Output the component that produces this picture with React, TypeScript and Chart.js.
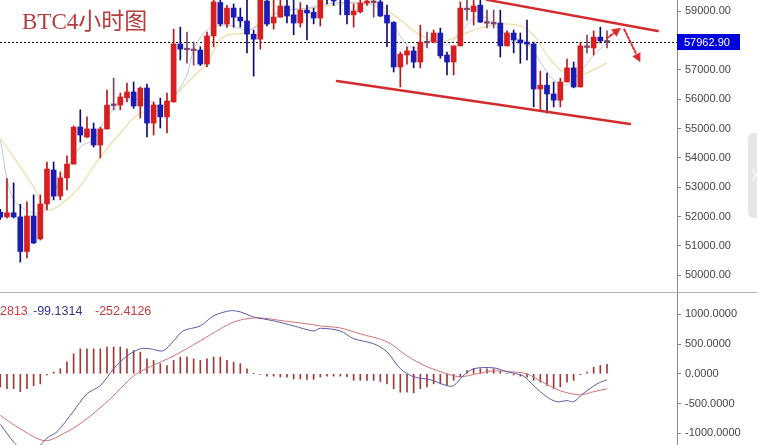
import React, { useEffect, useRef } from "react";
import { Chart, registerables } from "chart.js";
Chart.register(...registerables);

// ---------- data ----------
const openPrices = [52150,51990,52130,51990,50810,52020,51240,52430,53590,52700,53320,53790,55056,54710,54988,54440,54988,55800,55806,56050,56250,55770,56385,55190,55806,55400,55910,57885,57700,57700,57680,57200,58160,59300,58567,59110,58800,58670,58220,58050,59350,58600,58800,59180,58880,58600,59040,58970,58770,59550,59500,59700,59500,58880,58980,59280,59340,59320,58870,58620,57100,57510,57650,57270,57940,57950,58260,57510,57270,57820,59090,58990,59210,58630,58610,58600,57820,58260,58020,57950,57885,56350,56480,56180,55970,56590,57070,56420,57780,57750,58120,57990];
const highPrices = [52250,53300,53150,52420,52500,52740,52740,53860,53860,53520,54070,55090,55640,55400,55190,55050,56310,56720,56210,56550,56590,56420,56520,55910,56040,56210,58390,58460,58290,57950,57790,58290,59600,59600,59200,59250,59110,59500,58360,59600,59500,59450,59500,59400,59400,59300,59210,59110,59500,59700,59700,59900,59600,59250,59400,59450,59450,59500,59210,58650,57610,57790,57790,58530,58290,58360,58430,57610,57820,59320,59400,59400,59500,59040,59040,59040,58330,58360,58260,58700,57950,56960,56890,56590,56720,57370,57270,57920,58190,58330,58460,58330];
const lowPrices = [51900,51950,51950,50450,50590,51080,51200,52230,52570,52570,52910,53790,54540,54700,54370,54000,54980,55640,55640,55910,55690,55360,54720,54780,55020,54850,55900,57340,57230,57160,57150,57100,57790,58500,58450,58460,58460,57580,56790,57710,58500,58390,58800,58600,58200,58460,58020,58570,58500,59250,59200,58880,58570,58460,58940,59200,58800,58820,57790,56930,56420,57200,57070,57070,57750,57920,57400,56830,56830,57820,58700,58530,58620,58430,58430,57440,57820,57580,57230,57340,55740,55640,55530,55740,55740,56590,56390,56420,57580,57510,57920,57750];
const closePrices = [51980,52130,51990,50810,52020,51100,52430,53620,52700,53320,53790,55050,54780,54990,54440,54990,55800,55830,56080,56250,55770,56380,55190,55806,55400,55940,57885,57710,57730,57670,57200,58160,59320,58567,59110,58800,58670,58220,58050,59450,58567,58800,59180,58840,58600,59040,58940,58770,59420,59400,59350,59500,58880,59010,59280,59350,59310,58840,58600,57100,57540,57650,57270,57950,57960,58260,57480,57270,57820,59110,59070,59180,58630,58610,58590,57820,58260,58020,57920,57880,56350,56480,56180,55970,56590,57070,56420,57820,57810,58120,57990,57962.9];

// moving averages: [candle index, price]
const maFast = [[0,54610],[2,52570],[6,52060],[7,52400],[12,54380],[14,54610],[16,55400],[19,55980],[22,55980],[24,55740],[26,56080],[28,56830],[29,57680],[31,58360],[34,58530],[37,58360],[39,58530],[42,58980],[46,59110],[50,59280],[54,59280],[57,59110],[59,58530],[61,57850],[63,57750],[65,58020],[67,57850],[69,58260],[71,58770],[73,58770],[75,58360],[77,58090],[79,57950],[81,57270],[83,56660],[85,56490],[87,56930],[89,57510],[91,57920]];
const maSlow = [[0,54680],[5,53010],[7,52230],[8.5,52330],[11.5,52910],[15,54030],[18,54850],[21,55530],[24,55640],[26,56080],[28,56560],[31,57240],[33.5,58130],[37,58290],[41,58940],[47,59110],[54.5,59320],[57,59200],[60,58700],[63,58190],[66,57950],[69,58190],[72,58430],[75,58570],[78,58500],[80,58190],[82,57510],[84,57000],[86,56790],[88,56900],[91,57240]];

const priceTicks = [50000,51000,52000,53000,54000,55000,56000,57000,58000,59000];
const lastPrice = 57962.9;
const chartTitle = "BTC4小时图";

// channel / arrow annotations in [candle index, price]
const channelUpper = [[73, 59390], [98.6, 58330]];
const channelLower = [[50.5, 56620], [94.45, 55160]];
const arrowUp = [[91, 58080], [93.1, 58440]];
const arrowDown = [[93.6, 58380], [96, 57260]];

// MACD
const macdHist = [-220,-250,-250,-300,-250,-200,-170,-20,30,85,200,335,420,420,420,420,450,450,450,420,390,365,250,225,170,140,225,280,280,250,225,250,280,280,225,195,170,85,3,-10,-40,-40,-55,-55,-85,-85,-95,-95,-55,-40,-40,-40,-50,-110,-110,-110,-110,-130,-170,-250,-310,-310,-320,-250,-220,-170,-170,-190,-110,-55,55,85,85,85,85,40,5,-20,-40,-55,-110,-140,-195,-250,-220,-140,-110,-15,30,110,140,160];
const difLine = [[0,-850],[1,-1000],[2,-1150],[3,-1250],[4,-1300],[5,-1280],[6,-1200],[7,-1080],[8.5,-975],[10.9,-640],[13,-335],[15,-200],[17,85],[19,300],[21,420],[22.5,420],[24.4,385],[25.9,540],[27.4,720],[30,805],[32,975],[34.5,1060],[36,1040],[38,955],[41,890],[44,805],[47,720],[48,765],[51,720],[53,590],[56,505],[58,370],[60,85],[62,-50],[64.5,-100],[67,-200],[68,-200],[69.4,-35],[71,85],[74,100],[76,35],[78.4,-35],[80,-200],[82,-390],[83.5,-470],[85,-450],[86,-470],[87.4,-335],[89.5,-170],[91,-99.13]];
const deaLine = [[0,-700],[3,-925],[6.7,-1125],[10,-975],[13,-755],[16.5,-420],[20,-35],[22.5,120],[26,300],[30,555],[33,755],[35,870],[37,925],[39,940],[42.4,890],[46,840],[48,805],[51,770],[54,670],[58,540],[61,300],[64,120],[67,0],[69,-50],[71.5,0],[74,50],[76.5,35],[79,0],[81,-120],[84,-285],[87,-355],[89,-300],[91,-252.41]];
const macdTicks = [-1000,-500,0,500,1000];
const macdLabels = ["2813", "-99.1314", "-252.4126"];

// ---------- helpers ----------
const FONT = '"Liberation Sans", Arial, sans-serif';
const X_MIN = -0.045;
const X_MAX = 101.5;
const UP = "#d71f1f";
const DOWN = "#1b1bb5";
const UP_WICK = "#b51a1a";
const DOWN_WICK = "#0d0d70";
const DOJI = "#7d4468";

function isDoji(i: number) { return Math.abs(closePrices[i] - openPrices[i]) < 40; }
function bodyColor(i: number) { return isDoji(i) ? DOJI : closePrices[i] >= openPrices[i] ? UP : DOWN; }
function wickColor(i: number) { return isDoji(i) ? DOJI : closePrices[i] >= openPrices[i] ? UP_WICK : DOWN_WICK; }

function rightAxis(ticks: number[], min: number, max: number, digits: number) {
  return {
    position: "right" as const,
    min, max,
    afterBuildTicks: (scale: any) => { scale.ticks = ticks.map((v) => ({ value: v })); },
    afterFit: (scale: any) => { scale.width = 80; scale.paddingTop = 0; scale.paddingBottom = 0; },
    grid: { drawOnChartArea: false, drawTicks: true, tickLength: 4, tickColor: "#8a8a8a" },
    border: { display: true, color: "#8a8a8a", width: 1 },
    ticks: {
      padding: 4,
      color: "#454545",
      font: { family: FONT, size: 11 },
      callback: (v: any) => Number(v).toFixed(digits),
    },
  };
}

function drawArrowLine(ctx: CanvasRenderingContext2D, x1: number, y1: number, x2: number, y2: number) {
  const ang = Math.atan2(y2 - y1, x2 - x1);
  const head = 9;
  const bx = x2 - Math.cos(ang) * head;
  const by = y2 - Math.sin(ang) * head;
  ctx.save();
  ctx.strokeStyle = "#e02a2a";
  ctx.fillStyle = "#e02a2a";
  ctx.lineWidth = 2;
  ctx.setLineDash([2, 2]);
  ctx.beginPath();
  ctx.moveTo(x1, y1);
  ctx.lineTo(bx, by);
  ctx.stroke();
  ctx.setLineDash([]);
  ctx.beginPath();
  ctx.moveTo(x2, y2);
  ctx.lineTo(bx + Math.cos(ang + Math.PI / 2) * 4.5, by + Math.sin(ang + Math.PI / 2) * 4.5);
  ctx.lineTo(bx + Math.cos(ang - Math.PI / 2) * 4.5, by + Math.sin(ang - Math.PI / 2) * 4.5);
  ctx.closePath();
  ctx.fill();
  ctx.restore();
}

const pricePlugin = {
  id: "priceOverlay",
  beforeDatasetsDraw(chart: any) {
    const { ctx, chartArea, scales } = chart;
    const ly = Math.round(scales.y.getPixelForValue(lastPrice)) + 0.5;
    ctx.save();
    ctx.strokeStyle = "#111";
    ctx.lineWidth = 1;
    ctx.setLineDash([2, 2]);
    ctx.beginPath();
    ctx.moveTo(chartArea.left, ly);
    ctx.lineTo(chartArea.right, ly);
    ctx.stroke();
    ctx.restore();
  },
  afterDraw(chart: any) {
    const { ctx, chartArea, scales } = chart;
    const px = (i: number) => scales.x.getPixelForValue(i);
    const py = (v: number) => scales.y.getPixelForValue(v);
    ctx.save();
    ctx.beginPath();
    ctx.rect(chartArea.left, chartArea.top, chartArea.right - chartArea.left, chartArea.bottom - chartArea.top);
    ctx.clip();
    ctx.strokeStyle = "#d42c2c";
    ctx.lineWidth = 2.5;
    ctx.lineCap = "round";
    for (const seg of [channelUpper, channelLower]) {
      ctx.beginPath();
      ctx.moveTo(px(seg[0][0]), py(seg[0][1]));
      ctx.lineTo(px(seg[1][0]), py(seg[1][1]));
      ctx.stroke();
    }
    for (const seg of [arrowUp, arrowDown]) {
      drawArrowLine(ctx, px(seg[0][0]), py(seg[0][1]), px(seg[1][0]), py(seg[1][1]));
    }
    ctx.restore();

    // title
    ctx.save();
    ctx.fillStyle = "#b53c3a";
    ctx.font = '23px "Liberation Serif", "Noto Sans CJK SC", serif';
    ctx.textBaseline = "alphabetic";
    ctx.textAlign = "left";
    ctx.fillText(chartTitle, 22, 29);
    ctx.restore();

    // last price box
    const ly = Math.round(py(lastPrice));
    ctx.save();
    ctx.fillStyle = "#0000dc";
    ctx.fillRect(chartArea.right, ly - 8, 63, 16);
    ctx.fillStyle = "#ffffff";
    ctx.font = `11px ${FONT}`;
    ctx.textBaseline = "middle";
    ctx.textAlign = "left";
    ctx.fillText(lastPrice.toFixed(2), chartArea.right + 7, ly + 0.5);
    ctx.restore();

    // panel separator
    ctx.save();
    ctx.strokeStyle = "#b0b0b0";
    ctx.lineWidth = 1;
    ctx.beginPath();
    ctx.moveTo(0, chart.height - 0.5);
    ctx.lineTo(chart.width, chart.height - 0.5);
    ctx.stroke();

    // side handle
    ctx.fillStyle = "#e6e6e6";
    ctx.beginPath();
    (ctx as any).roundRect(748, 133, 16, 85, 6);
    ctx.fill();
    ctx.strokeStyle = "#f8f8f8";
    ctx.lineWidth = 1.5;
    ctx.beginPath();
    ctx.moveTo(752, 169);
    ctx.lineTo(756, 175);
    ctx.lineTo(752, 181);
    ctx.stroke();
    ctx.restore();
  },
};

const macdPlugin = {
  id: "macdOverlay",
  afterDraw(chart: any) {
    const { ctx } = chart;
    const colors = ["#c83c3c", "#34348e", "#c83c3c"];
    const xs = [0, 33, 95];
    ctx.save();
    ctx.font = `12.5px ${FONT}`;
    ctx.textBaseline = "alphabetic";
    ctx.textAlign = "left";
    macdLabels.forEach((t, k) => {
      ctx.fillStyle = colors[k];
      ctx.fillText(t, xs[k], 21.5);
    });
    ctx.restore();
  },
};

export default function App() {
  const priceRef = useRef<HTMLCanvasElement>(null);
  const macdRef = useRef<HTMLCanvasElement>(null);

  useEffect(() => {
    document.body.style.margin = "0";
    const idx = openPrices.map((_, i) => i);
    const xScale = { type: "linear" as const, min: X_MIN, max: X_MAX, display: false, offset: false };

    const priceChart = new Chart(priceRef.current as HTMLCanvasElement, {
      type: "bar",
      data: {
        datasets: [
          {
            type: "line",
            data: maSlow.map(([x, y]) => ({ x, y })),
            borderColor: "#efdca3",
            borderWidth: 1.2,
            pointRadius: 0,
            tension: 0.4,
            order: 6,
          } as any,
          {
            type: "line",
            data: maFast.map(([x, y]) => ({ x, y })),
            borderColor: "#c4c4dc",
            borderWidth: 1,
            pointRadius: 0,
            tension: 0.3,
            order: 5,
          } as any,
          {
            type: "bar",
            data: idx.map((i) => ({ x: i, y: [lowPrices[i], highPrices[i]] })),
            backgroundColor: idx.map(wickColor),
            barThickness: 1,
            grouped: false,
            borderWidth: 0,
            order: 2,
          } as any,
          {
            type: "bar",
            data: idx.map((i) => {
              const o = openPrices[i], c = closePrices[i];
              if (isDoji(i)) { const m = (o + c) / 2; return { x: i, y: [m - 28, m + 28] }; }
              return { x: i, y: [o, c] };
            }),
            backgroundColor: idx.map(bodyColor),
            barThickness: 5,
            grouped: false,
            borderWidth: 0,
            order: 1,
          } as any,
        ],
      },
      options: {
        animation: false,
        responsive: false,
        maintainAspectRatio: false,
        layout: { padding: 0 },
        plugins: { legend: { display: false }, tooltip: { enabled: false } },
        scales: {
          x: xScale,
          y: rightAxis(priceTicks, 49395, 59385, 2),
        } as any,
      },
      plugins: [pricePlugin],
    });

    const macdChart = new Chart(macdRef.current as HTMLCanvasElement, {
      type: "bar",
      data: {
        datasets: [
          {
            type: "bar",
            data: idx.map((i) => ({ x: i, y: [0, macdHist[i]] })),
            backgroundColor: "#a03838",
            barThickness: 1,
            grouped: false,
            borderWidth: 0,
            order: 3,
          } as any,
          {
            type: "line",
            data: deaLine.map(([x, y]) => ({ x, y })),
            borderColor: "#d27272",
            borderWidth: 1,
            pointRadius: 0,
            tension: 0.3,
            order: 2,
          } as any,
          {
            type: "line",
            data: difLine.map(([x, y]) => ({ x, y })),
            borderColor: "#5a5ab0",
            borderWidth: 1,
            pointRadius: 0,
            tension: 0.3,
            order: 1,
          } as any,
        ],
      },
      options: {
        animation: false,
        responsive: false,
        maintainAspectRatio: false,
        layout: { padding: 0 },
        plugins: { legend: { display: false }, tooltip: { enabled: false } },
        scales: {
          x: xScale,
          y: rightAxis(macdTicks, -1197, 1358, 4),
        } as any,
      },
      plugins: [macdPlugin],
    });

    return () => {
      priceChart.destroy();
      macdChart.destroy();
    };
  }, []);

  return (
    <div style={{ position: "relative", width: 757, height: 445, background: "#ffffff", overflow: "hidden" }}>
      <canvas ref={priceRef} width={757} height={293} style={{ display: "block", width: 757, height: 293 }} />
      <canvas ref={macdRef} width={757} height={152} style={{ display: "block", width: 757, height: 152 }} />
    </div>
  );
}
